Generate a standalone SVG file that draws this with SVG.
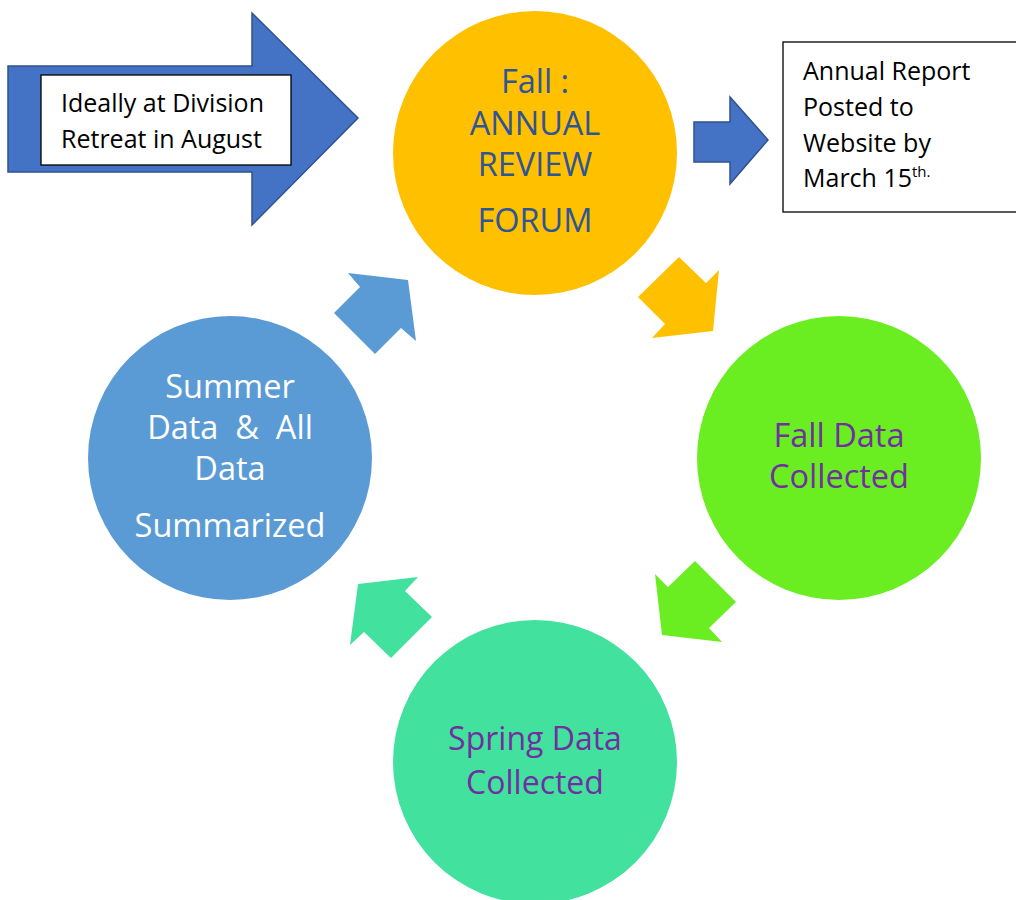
<svg xmlns="http://www.w3.org/2000/svg" width="1016" height="900" viewBox="0 0 1016 900">
<style>
text{font-family:"Open Sans","Liberation Sans",sans-serif;}
.box{fill:#fff;stroke:#000;stroke-width:1.3;}
.bigarrow{fill:#4472C4;stroke:#2F528F;stroke-width:1.5;}
.lbl{font-size:25px;fill:#000;}
.ctr{text-anchor:middle;font-size:32.5px;}
.blue{fill:#2F5597;}
.purple{fill:#7030A0;}
.white{fill:#fff;}
</style>
<rect width="1016" height="900" fill="#fff"/>
<g id="connectors">
<polygon points="679,257 706,283 719,270 713,331 652,338 665,324 638,297" fill="#FFC000"/>
<polygon points="695,561 736,602 709,628 722,642 662,635 655,574 668,587" fill="#6AEE22"/>
<polygon points="358,584 418,577 405,591 432,617 391,658 364,632 350,645" fill="#43E19E"/>
<polygon points="348,273 408,280 416,341 401,328 375,354 334,313 360,287" fill="#5B9BD5"/>
<polygon class="bigarrow" points="694,122 730,122 730,97 768,140 730,184 730,162 694,162"/>
</g>
<g id="node-retreat">
<polygon class="bigarrow" points="8,66 252,66 252,13 358,118 252,225 252,172 8,172"/>
<rect class="box" x="41" y="75" width="250" height="90"/>
<text class="lbl" x="61" y="112">Ideally at Division</text>
<text class="lbl" x="61" y="148">Retreat in August</text>
</g>
<g id="node-report">
<rect class="box" x="783" y="42" width="240" height="170"/>
<text class="lbl" x="803" y="80">Annual Report</text>
<text class="lbl" x="803" y="116">Posted to</text>
<text class="lbl" x="803" y="152">Website by</text>
<text class="lbl" x="803" y="187">March 15<tspan font-size="15" dy="-10">th.</tspan></text>
</g>
<g id="node-forum">
<circle cx="535" cy="153" r="142" fill="#FFC000"/>
<text class="ctr blue" x="535" y="93">Fall :</text>
<text class="ctr blue" x="535" y="135">ANNUAL</text>
<text class="ctr blue" x="535" y="176">REVIEW</text>
<text class="ctr blue" x="535" y="232">FORUM</text>
</g>
<g id="node-fall">
<circle cx="839" cy="458" r="142" fill="#6AEE22"/>
<text class="ctr purple" x="839" y="447">Fall Data</text>
<text class="ctr purple" x="839" y="488">Collected</text>
</g>
<g id="node-spring">
<circle cx="535" cy="762" r="142" fill="#43E19E"/>
<text class="ctr purple" x="535" y="750" style="font-size:32px">Spring Data</text>
<text class="ctr purple" x="535" y="794" style="font-size:32px">Collected</text>
</g>
<g id="node-summer">
<circle cx="230" cy="458" r="142" fill="#5B9BD5"/>
<text class="ctr white" x="230" y="398">Summer</text>
<text class="ctr white" x="230" y="439" xml:space="preserve">Data  &amp;  All</text>
<text class="ctr white" x="230" y="480">Data</text>
<text class="ctr white" x="230" y="537">Summarized</text>
</g>
</svg>
